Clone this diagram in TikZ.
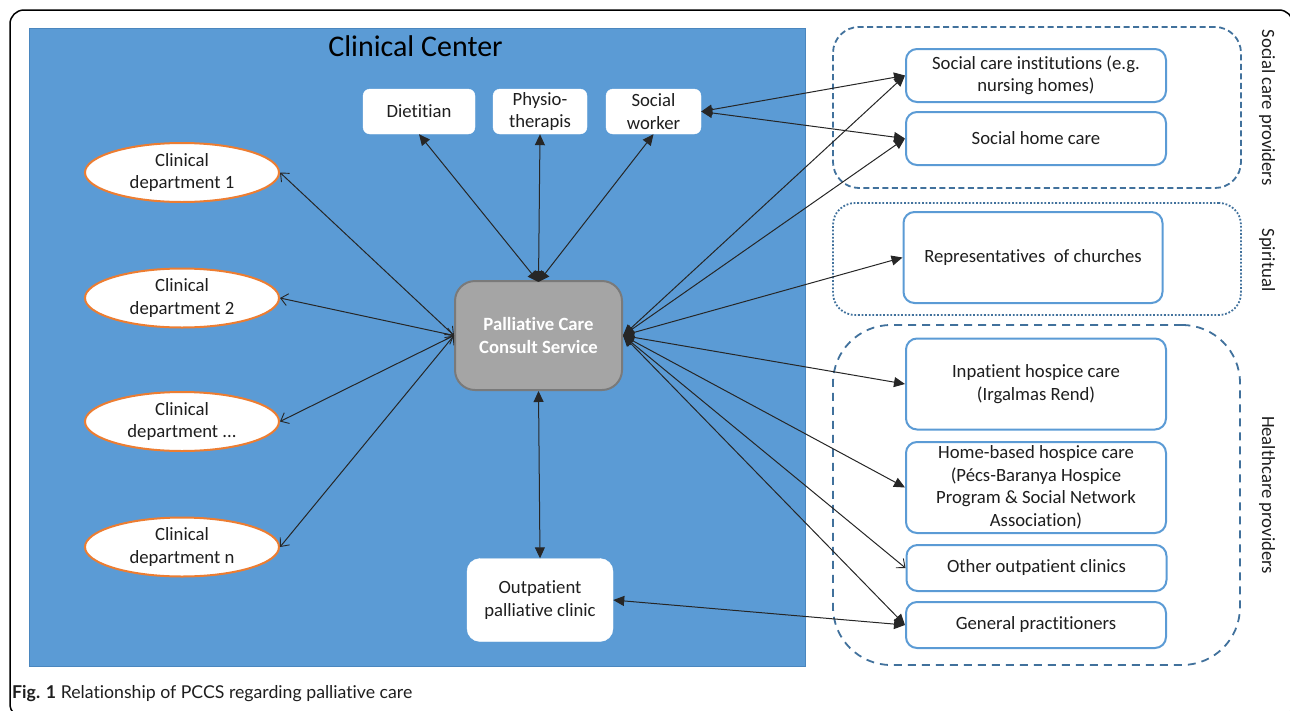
\documentclass[tikz,border=0pt]{standalone}
\usepackage{fontspec}
\setmainfont{Carlito}[Ligatures=NoCommon]
\newfontfamily\capfont{Lato}[Ligatures=NoCommon]
\usetikzlibrary{arrows.meta,shapes.geometric}
\definecolor{ccblue}{HTML}{5B9BD5}
\definecolor{ccedge}{HTML}{4A86BE}
\definecolor{grpblue}{HTML}{41719C}
\definecolor{orng}{HTML}{ED7D31}
\definecolor{pgray}{HTML}{A5A5A5}
\definecolor{pgrayd}{HTML}{7A7A7A}
\definecolor{txt}{HTML}{1E1E1E}
\tikzset{
  Fill/.tip={Triangle[length=11pt,width=10pt]},
  Open/.tip={Straight Barb[length=7pt,width=12pt,line width=0.9pt]},
  conn/.style={draw=black!85, line width=1pt},
  dept/.style={ellipse, draw=orng, line width=2pt, fill=white, minimum width=194pt, minimum height=59pt, inner sep=0pt},
  wbox/.style={rectangle, rounded corners=7pt, fill=white, draw=white, align=center, text=txt, inner sep=0pt},
  rbox/.style={rectangle, rounded corners=11pt, fill=white, draw=ccblue, line width=2pt, align=center, text=txt, inner sep=0pt, minimum width=260pt},
  grpbox/.style={rectangle, draw=grpblue, line width=1.8pt, inner sep=0pt},
  vlabel/.style={rotate=-90, text=txt}
}
\begin{document}
\begin{tikzpicture}[x=1pt,y=-1pt,font=\fontsize{18.7}{22.5}\selectfont]
\useasboundingbox (0,0) rectangle (1290,710);
% outer frame
\draw[line width=1.5pt, rounded corners=14pt] (10,10) rectangle (1293,718);
% clinical center
\node[rectangle, fill=ccblue, draw=ccedge, line width=0.8pt, minimum width=776pt, minimum height=638pt, inner sep=0pt] (cc) at (417,347) {};
\node[text=black] (title) at (415.5,46) {\fontsize{30}{36}\selectfont Clinical Center};

% departments
\node[dept, label={[align=center,text=txt]center:Clinical\\department 1}] (d1) at (182,172.5) {};
\node[dept, label={[align=center,text=txt]center:Clinical\\department 2}] (d2) at (182,298) {};
\node[dept, label={[align=center,text=txt]center:Clinical\\department ...}] (d3) at (182,421.5) {};
\node[dept, label={[align=center,text=txt]center:Clinical\\department n}] (dn) at (182,547) {};

% top boxes
\node[wbox, minimum width=112pt, minimum height=45pt] (diet) at (419,111.5) {Dietitian};
\node[wbox, minimum width=94pt, minimum height=45pt] (phys) at (540,111.5) {Physio-\\therapis};
\node[wbox, minimum width=95pt, minimum height=45pt] (sw) at (653.5,111.5) {Social\\worker};

% PCCS
\node[rectangle, rounded corners=20pt, fill=pgray, draw=pgrayd, line width=2pt, minimum width=167pt, minimum height=109pt, align=center, text=white, font=\fontsize{18.7}{24}\selectfont\bfseries] (pccs) at (538.5,335.5) {Palliative Care\\Consult Service};

% outpatient
\node[wbox, rounded corners=13pt, minimum width=146pt, minimum height=83pt] (opc) at (540,600) {Outpatient\\palliative clinic};

% groups
\node[grpbox, dashed, dash pattern=on 6pt off 3.5pt, rounded corners=26pt, minimum width=408pt, minimum height=161pt] (gsoc) at (1037,107.5) {};
\node[grpbox, dash pattern=on 1.8pt off 1.8pt, rounded corners=22pt, minimum width=408pt, minimum height=112pt] (gspi) at (1037,259) {};
\node[grpbox, dash pattern=on 8pt off 6pt, rounded corners=58pt, minimum width=407pt, minimum height=340pt] (ghc) at (1036.5,495) {};

\node[vlabel] (lsoc) at (1267,107.5) {Social care providers};
\node[vlabel] (lspi) at (1267,260) {Spiritual};
\node[vlabel] (lhc) at (1267,495) {Healthcare providers};

% right boxes
\node[rbox, minimum height=53pt] (sci) at (1036,75.5) {Social care institutions (e.g.\\nursing homes)};
\node[rbox, minimum height=53pt] (shc) at (1036,138.5) {Social home care};
\node[rbox, minimum width=259pt, minimum height=91pt] (rep) at (1033,257.5) {Representatives~ of churches};
\node[rbox, minimum height=91pt] (inp) at (1036,384) {Inpatient hospice care\\(Irgalmas Rend)};
\node[rbox, minimum height=91pt] (home) at (1036,487.5) {Home-based hospice care\\(Pécs-Baranya Hospice\\Program \& Social Network\\Association)};
\node[rbox, minimum height=46pt] (oth) at (1036.5,568) {Other outpatient clinics};
\node[rbox, minimum height=46pt] (gp) at (1036,625) {General practitioners};

% connectors: departments
\draw[conn, Open-Open] (pccs.west) -- (d1.east);
\draw[conn, Open-Open] (pccs.west) -- (d2.east);
\draw[conn, Open-Open] (pccs.west) -- (d3.east);
\draw[conn, Open-Open] (pccs.west) -- (dn.east);
% top
\draw[conn, Fill-Fill] ([yshift=-2pt]pccs.north) -- (diet.south);
\draw[conn, Fill-Fill] ([yshift=-2pt]pccs.north) -- (phys.south);
\draw[conn, Fill-Fill] ([yshift=-2pt]pccs.north) -- (sw.south);
% bottom
\draw[conn, Fill-Fill] (pccs.south) -- (opc.north);
\draw[conn, Fill-Fill] (opc.east) -- (gp.west);
% social worker
\draw[conn, Fill-Fill] (sw.east) -- (sci.west);
\draw[conn, Fill-Fill] (sw.east) -- (shc.west);
% PCCS right
\draw[conn, Fill-Fill] (pccs.east) -- (sci.west);
\draw[conn, Fill-Fill] (pccs.east) -- (shc.west);
\draw[conn, Fill-Fill] (pccs.east) -- (rep.west);
\draw[conn, Fill-Fill] (pccs.east) -- (inp.west);
\draw[conn, Fill-Fill] (pccs.east) -- (home.west);
\draw[conn, Fill-Open] (pccs.east) -- (oth.west);
\draw[conn, Fill-Fill] (pccs.east) -- (gp.west);

% caption
\node[anchor=base west, inner sep=0pt, text=txt, font=\capfont\fontsize{17.7}{20}\selectfont] (cap) at (12,698) {\textbf{Fig. 1} Relationship of PCCS regarding palliative care};
\end{tikzpicture}
\end{document}
